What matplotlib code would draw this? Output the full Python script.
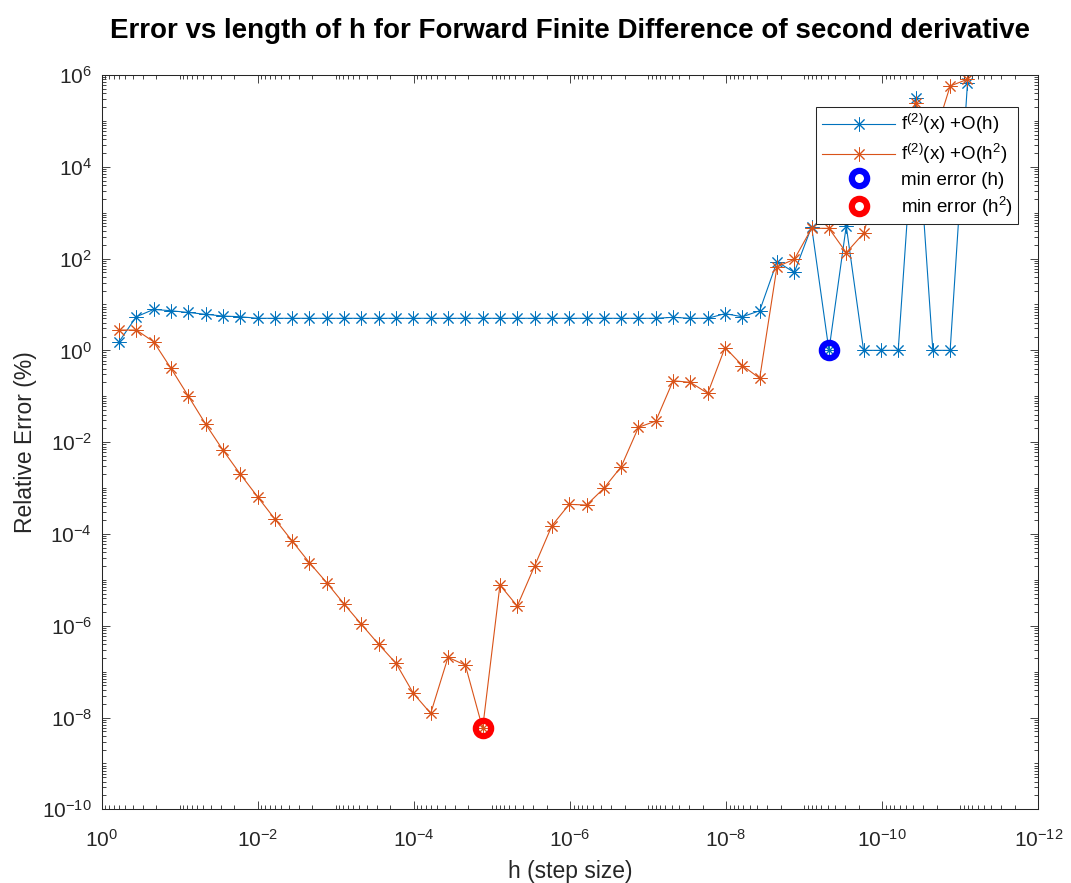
import numpy as np
import matplotlib
matplotlib.use("Agg")
import matplotlib.pyplot as plt
from matplotlib.ticker import LogLocator, NullFormatter

plt.rcParams['font.family'] = ['Liberation Sans', 'DejaVu Sans']
plt.rcParams['mathtext.fontset'] = 'custom'
plt.rcParams['mathtext.rm'] = 'Liberation Sans'
plt.rcParams['mathtext.it'] = 'Liberation Sans:italic'
plt.rcParams['mathtext.bf'] = 'Liberation Sans:bold'
plt.rcParams['axes.unicode_minus'] = False

# step sizes h = 0.6^k, k = 1..50
k = np.arange(1, 51)
h = 0.6 ** k

# relative error (%) of the first-order forward scheme
err_h = [1.54, 5.4, 7.8, 7.3, 6.7, 6.1, 5.6, 5.4, 5.0, 5.0,
         5.0, 5.0, 5.0, 5.0, 5.0, 5.0, 5.0, 5.0, 5.0, 5.0,
         5.0, 5.0, 5.0, 5.0, 5.0, 5.0, 5.0, 5.0, 5.0, 5.0,
         5.0, 5.0, 5.25, 5.0, 5.0, 6.3, 5.4, 7.3, 85.5, 50.0,
         494.0, 1.0, 513.0, 1.0, 1.0, 1.0, 3.1e5, 1.0, 1.0, 6.6e5]

# relative error (%) of the second-order forward scheme (log10 values)
log_err_h2 = [0.443, 0.443, 0.188, -0.391, -0.995, -1.605, -2.172, -2.695, -3.189, -3.675,
              -4.155, -4.628, -5.064, -5.528, -5.971, -6.406, -6.820, -7.474, -7.910, -6.689,
              -6.857, -8.236, -5.114, -5.571, -4.700, -3.821, -3.355, -3.370, -3.006, -2.536,
              -1.677, -1.540, -0.662, -0.697, -0.936, 0.062, -0.330, -0.609, 1.823, 1.984,
              2.659, 2.659, 2.128, 2.550, 3.840, 4.500, 5.400, 4.550, 5.760, 5.906]
err_h2 = 10.0 ** np.array(log_err_h2)
err_h = np.array(err_h)

labels = [r'f$^{\mathregular{(2)}}$(x) +O(h)',
          r'f$^{\mathregular{(2)}}$(x) +O(h$^{\mathregular{2}}$)',
          'min error (h)',
          r'min error (h$^{\mathregular{2}}$)']

blue = '#0072BD'
orange = '#D95319'
axcol = '#262626'

fig = plt.figure(figsize=(10.71, 8.83), dpi=100)
ax = fig.add_axes([101.7 / 1071, 1 - 809.3 / 883, (1038.3 - 101.7) / 1071, (809.3 - 75) / 883])

star = (8, 2, 0)
ax.loglog(h, err_h, '-', color=blue, lw=0.8, marker=star, ms=10, mew=0.7, label=labels[0])
ax.loglog(h, err_h2, '-', color=orange, lw=0.8, marker=star, ms=10, mew=0.7, label=labels[1])

i1 = int(np.argmin(err_h))
i2 = int(np.argmin(err_h2))
ax.plot(h[i1], err_h[i1], 'o', color='blue', mfc='none', ms=11, mew=4.5, label=labels[2])
ax.plot(h[i2], err_h2[i2], 'o', color='red', mfc='none', ms=11, mew=4.5, label=labels[3])

ax.set_xlim(1, 1e-12)
ax.set_ylim(1e-10, 1e6)
ax.set_xticks(10.0 ** np.arange(0, -13, -2))
ax.set_yticks(10.0 ** np.arange(-10, 7, 2))
ax.xaxis.set_minor_locator(LogLocator(base=10, subs=np.arange(1, 10), numticks=200))
ax.yaxis.set_minor_locator(LogLocator(base=10, subs=np.arange(1, 10), numticks=200))
ax.xaxis.set_minor_formatter(NullFormatter())
ax.yaxis.set_minor_formatter(NullFormatter())

ax.tick_params(which='both', direction='in', top=True, right=True, color=axcol,
               labelcolor=axcol, labelsize=15, width=0.6)
ax.tick_params(which='major', length=6)
ax.tick_params(which='minor', length=3)
ax.tick_params(axis='x', which='major', pad=14)
ax.tick_params(axis='y', which='major', pad=7)
for s in ax.spines.values():
    s.set_color(axcol)
    s.set_linewidth(0.75)

ax.set_title('Error vs length of h for Forward Finite Difference of second derivative',
             fontsize=20, fontweight='bold', pad=27)
ax.set_xlabel('h (step size)', fontsize=16.5, color=axcol, labelpad=7)
ax.set_ylabel('Relative Error (%)', fontsize=16.5, color=axcol, labelpad=4)

leg = ax.legend(loc='upper right', bbox_to_anchor=(1 - 20 / 936.6, 1 - 31.7 / 734.3),
                borderaxespad=0, fontsize=13.5, handlelength=3.9, fancybox=False,
                framealpha=1, edgecolor=axcol, labelspacing=0.3, borderpad=0.3,
                handletextpad=0.3)
leg.get_frame().set_linewidth(0.75)

fig.savefig('out.png', dpi=100, facecolor='white')
